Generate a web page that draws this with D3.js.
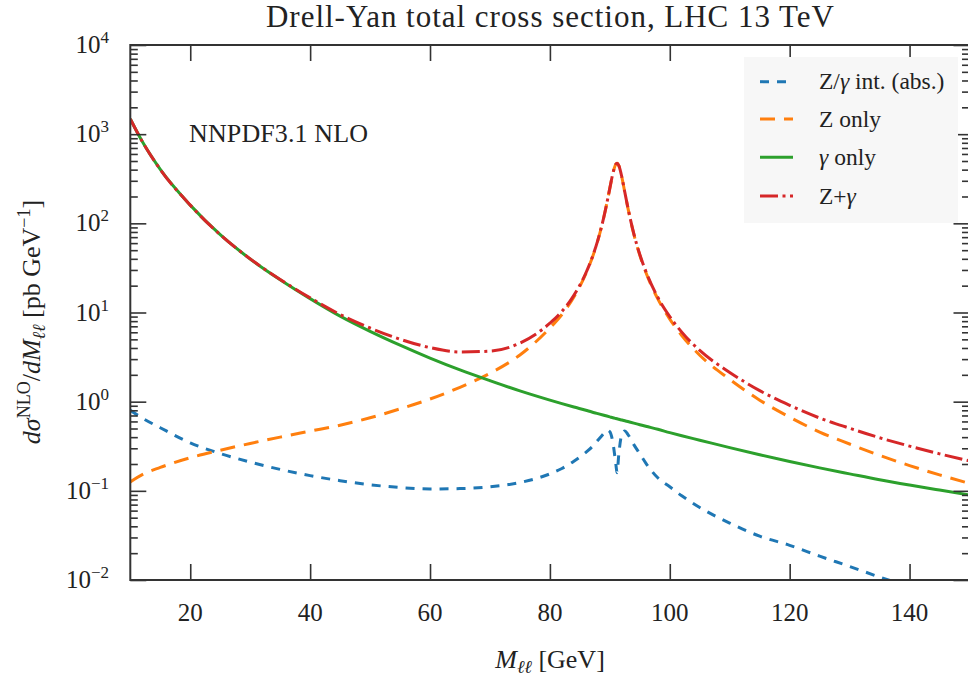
<!DOCTYPE html>
<html>
<head>
<meta charset="utf-8">
<script src="https://cdn.jsdelivr.net/npm/d3@7"></script>
<style>
  html, body { margin: 0; padding: 0; background: #fff; }
  svg { display: block; }
</style>
</head>
<body>
<svg id="chart" width="968" height="681"></svg>
<script>
// ---------------- data ----------------
const mass = [10,12,15,20,25,30,35,40,45,50,55,60,65,70,75,80,82,84,86,87,88,89,89.5,90,90.5,91,91.2,91.5,92,92.5,93,94,95,96,98,100,102,105,110,115,120,125,130,135,140,145,150];
const interfAbs = [0.80,0.655,0.51,0.345,0.262,0.21,0.174,0.148,0.13,0.117,0.109,0.105,0.106,0.111,0.124,0.155,0.178,0.215,0.27,0.31,0.37,0.44,0.48,0.46,0.35,0.2,0.16,0.26,0.43,0.47,0.43,0.33,0.26,0.205,0.14,0.111,0.088,0.065,0.0435,0.031,0.0245,0.0185,0.0142,0.0108,0.0085,0.0068,0.0055];
const zOnly = [0.126,0.152,0.183,0.235,0.285,0.34,0.40,0.467,0.545,0.66,0.83,1.07,1.45,2.08,3.34,6.7,9.5,14.9,27.2,40.0,64.4,117.5,168,248,361,460,471,443,330,222,150,75.6,43.9,28.3,14.2,8.44,5.52,3.32,1.78,1.04,0.67,0.456,0.335,0.25,0.192,0.151,0.121];
const gammaOnly = [1480,826,402,160,74.5,39.8,23.3,14.3,9.1,6.15,4.3,3.08,2.27,1.72,1.32,1.04,0.95,0.87,0.80,0.765,0.735,0.705,0.69,0.675,0.66,0.647,0.642,0.635,0.622,0.61,0.598,0.575,0.552,0.53,0.49,0.45,0.415,0.37,0.305,0.254,0.213,0.181,0.155,0.133,0.116,0.102,0.09];
const zPlusGamma = [1479,825.5,402,160,74.5,39.9,23.5,14.6,9.5,6.7,5.02,4.04,3.61,3.69,4.54,7.59,10.27,15.55,27.73,40.46,64.77,117.77,168.2,248.2,361.3,460.4,471.5,443.9,331.1,223.1,151.0,76.5,44.7,29.0,14.8,9.0,6.02,3.75,2.13,1.33,0.91,0.656,0.504,0.394,0.317,0.26,0.217];

const xTicks = [20,40,60,80,100,120,140];
const yExponents = [-2,-1,0,1,2,3,4];
const seriesNames = ["Z/γ int. (abs.)", "Z only", "γ only", "Z+γ"];

// ---------------- layout ----------------
const FONT = '"Liberation Serif", "Times New Roman", serif';
const svg = d3.select("#chart");
const L = 130.3, R = 969.5, T = 45, B = 580;
const x = d3.scaleLinear().domain([10,150]).range([L, R]);
const y = d3.scaleLog().domain([1e-2, 1e4]).range([B, T]);
const axisColor = "#333";

const series = [
  {name: seriesNames[0], values: interfAbs, color: "#1f77b4", dash: "9,8"},
  {name: seriesNames[1], values: zOnly, color: "#ff7f0e", dash: "15,9"},
  {name: seriesNames[2], values: gammaOnly, color: "#2ca02c", dash: null},
  {name: seriesNames[3], values: zPlusGamma, color: "#d62728", dash: "18,4.5,3,4.5"}
];

svg.append("defs").append("clipPath").attr("id","plotclip")
  .append("rect").attr("x", L).attr("y", T).attr("width", R-L).attr("height", B-T);

const line = d3.line()
  .x(d => x(d[0])).y(d => y(d[1]))
  .curve(d3.curveMonotoneX);

const plot = svg.append("g").attr("clip-path","url(#plotclip)");
series.forEach(s => {
  const pts = mass.map((m,i) => [m, s.values[i]]);
  plot.append("path")
    .attr("d", line(pts))
    .attr("fill","none")
    .attr("stroke", s.color)
    .attr("stroke-width", 3)
    .attr("stroke-dasharray", s.dash)
    .attr("stroke-linejoin","round");
});

// ---------------- axes (ticks pointing inward) ----------------
const majorLen = 16, minorLen = 7.5;
const minorVals = y.ticks().filter(v => {
  const e = Math.log10(v); return Math.abs(e - Math.round(e)) > 1e-6;
});
const majorVals = yExponents.map(e => Math.pow(10, e));

function styleAxis(g) {
  g.selectAll("path.domain").remove();
  g.selectAll(".tick line").attr("stroke", axisColor).attr("stroke-width", 1.6);
  g.selectAll(".tick text").remove();
}
svg.append("g").attr("transform", `translate(0,${B})`)
  .call(d3.axisBottom(x).tickValues(xTicks).tickSize(-majorLen).tickFormat("")).call(styleAxis);
svg.append("g").attr("transform", `translate(0,${T})`)
  .call(d3.axisTop(x).tickValues(xTicks).tickSize(-majorLen).tickFormat("")).call(styleAxis);
svg.append("g").attr("transform", `translate(${L},0)`)
  .call(d3.axisLeft(y).tickValues(majorVals).tickSize(-majorLen).tickFormat("")).call(styleAxis);
svg.append("g").attr("transform", `translate(${L},0)`)
  .call(d3.axisLeft(y).tickValues(minorVals).tickSize(-minorLen).tickFormat("")).call(styleAxis);
svg.append("g").attr("transform", `translate(${R},0)`)
  .call(d3.axisRight(y).tickValues(majorVals).tickSize(-majorLen).tickFormat("")).call(styleAxis);
svg.append("g").attr("transform", `translate(${R},0)`)
  .call(d3.axisRight(y).tickValues(minorVals).tickSize(-minorLen).tickFormat("")).call(styleAxis);

// frame
svg.append("rect").attr("x", L).attr("y", T).attr("width", R-L).attr("height", B-T)
  .attr("fill","none").attr("stroke", axisColor).attr("stroke-width", 2);

function txt(sel) { return sel.style("font-family", FONT).attr("fill", "#222"); }

// tick labels
svg.append("g").selectAll("text").data(xTicks).join("text")
  .call(txt)
  .attr("x", d => x(d)).attr("y", 621)
  .attr("text-anchor","middle").attr("font-size", 25)
  .text(d => d);

const yl = svg.append("g").selectAll("text").data(yExponents).join("text")
  .call(txt)
  .attr("x", 109).attr("y", d => y(Math.pow(10,d)) + 8)
  .attr("text-anchor","end").attr("font-size", 25);
yl.append("tspan").text("10");
yl.append("tspan").attr("dy", -10).attr("font-size", 17)
  .text(d => d < 0 ? "\u2212" + (-d) : d);

// axis labels
const xl = svg.append("text").call(txt).attr("x", 550).attr("y", 668)
  .attr("text-anchor","middle").attr("font-size", 26);
xl.append("tspan").attr("font-style","italic").text("M");
xl.append("tspan").attr("font-style","italic").attr("font-size",18).attr("dy",5).text("ℓℓ");
xl.append("tspan").attr("dy",-5).text(" [GeV]");

const ylab = svg.append("text").call(txt).attr("transform","translate(40,322) rotate(-90)")
  .attr("text-anchor","middle").attr("font-size", 26);
ylab.append("tspan").attr("font-style","italic").text("dσ");
ylab.append("tspan").attr("font-size",18).attr("dy",-10).text("NLO");
ylab.append("tspan").attr("dy",10).text("/");
ylab.append("tspan").attr("font-style","italic").text("dM");
ylab.append("tspan").attr("font-style","italic").attr("font-size",18).attr("dy",5).text("ℓℓ");
ylab.append("tspan").attr("dy",-5).text(" [pb GeV");
ylab.append("tspan").attr("font-size",18).attr("dy",-10).text("\u22121");
ylab.append("tspan").attr("dy",10).text("]");

// title
svg.append("text").call(txt).attr("x", 550).attr("y", 27).attr("text-anchor","middle")
  .attr("font-size", 31).attr("textLength", 568).attr("lengthAdjust", "spacing")
  .text("Drell-Yan total cross section, LHC 13 TeV");

// annotation
svg.append("text").call(txt).attr("x", 189).attr("y", 142).attr("font-size", 26)
  .attr("textLength", 179).attr("lengthAdjust", "spacing").text("NNPDF3.1 NLO");

// legend
const lg = svg.append("g");
lg.append("rect").attr("x", 744).attr("y", 57).attr("width", 214).attr("height", 166)
  .attr("fill", "#f7f7f7");
const rowsY = [81.7, 119, 157.3, 196];
series.forEach((s, i) => {
  lg.append("line").attr("x1", 760).attr("x2", 793).attr("y1", rowsY[i]).attr("y2", rowsY[i])
    .attr("stroke", s.color).attr("stroke-width", 3).attr("stroke-dasharray", s.dash);
});
function legendText(i, parts) {
  const t = lg.append("text").call(txt).attr("x", 819).attr("y", rowsY[i] + 7.5).attr("font-size", 23.5);
  parts.forEach(p => {
    const ts = t.append("tspan").text(p[0]);
    if (p[1]) ts.attr("font-style","italic");
  });
}
legendText(0, [["Z/",0],["γ",1],[" int. (abs.)",0]]);
legendText(1, [["Z only",0]]);
legendText(2, [["γ",1],[" only",0]]);
legendText(3, [["Z+",0],["γ",1]]);
</script>
</body>
</html>
